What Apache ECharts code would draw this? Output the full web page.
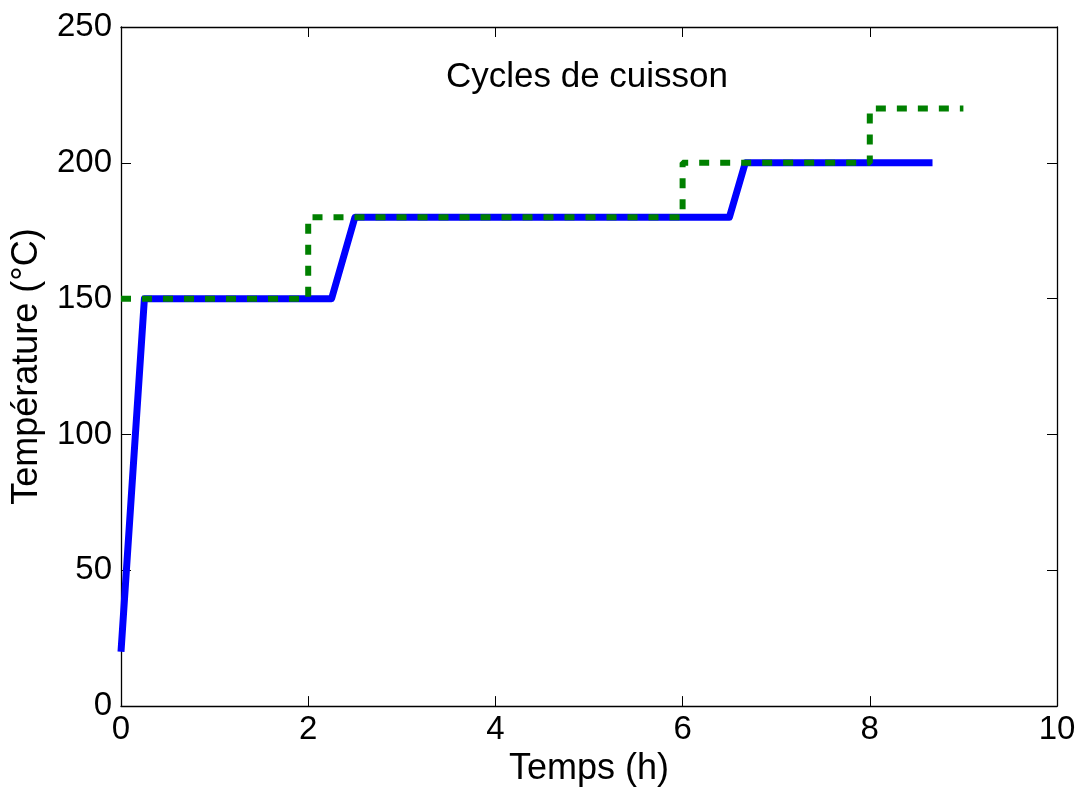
<!DOCTYPE html>
<html><head><meta charset="utf-8">
<script src="https://cdn.jsdelivr.net/npm/echarts@6/dist/echarts.min.js"></script>
<style>html,body{margin:0;padding:0;background:#fff}#c{width:1084px;height:792px}</style>
</head><body><div id="c"></div>
<script>
const xTicks = [0, 2, 4, 6, 8, 10];
const yTicks = [0, 50, 100, 150, 200, 250];
const blueX = [0, 0.25, 2.25, 2.5, 6.5, 6.67, 8.67];
const blueY = [20, 150, 150, 180, 180, 200, 200];
const greenX = [0, 2, 2, 6, 6, 8, 8, 9];
const greenY = [150, 150, 180, 180, 200, 200, 220, 220];
const titleText = 'Cycles de cuisson';
const xName = 'Temps (h)';
const yName = 'Température (°C)';

const font = 'Liberation Sans, Arial, Helvetica, sans-serif';
const chart = echarts.init(document.getElementById('c'), null, {renderer: 'canvas'});
const axisCommon = {
  axisLine: {show: true, onZero: false, lineStyle: {color: '#000', width: 1.3}},
  axisTick: {show: true, inside: true, length: 10, lineStyle: {color: '#000', width: 1}},
  splitLine: {show: false}
};
chart.setOption({
  animation: false,
  title: {text: titleText, left: 582, top: 55, textAlign: 'center',
    textStyle: {fontFamily: font, fontWeight: 'normal', fontSize: 35, color: '#000'}},
  grid: {left: 121, right: 27, top: 27, bottom: 85},
  xAxis: [
    Object.assign({type: 'value', min: xTicks[0], max: xTicks[xTicks.length-1], interval: 2, position: 'bottom',
      name: xName, nameLocation: 'middle', nameGap: 43,
      nameTextStyle: {fontFamily: font, fontSize: 36, color: '#000'},
      axisLabel: {fontFamily: font, fontSize: 33, color: '#000', margin: 7}}, axisCommon),
    Object.assign({type: 'value', min: xTicks[0], max: xTicks[xTicks.length-1], interval: 2, position: 'top',
      axisLabel: {show: false}}, axisCommon)
  ],
  yAxis: [
    Object.assign({type: 'value', min: yTicks[0], max: yTicks[yTicks.length-1], interval: 50, position: 'left',
      name: yName, nameLocation: 'middle', nameGap: 76, nameRotate: 90,
      nameTextStyle: {fontFamily: font, fontSize: 36, color: '#000'},
      axisLabel: {fontFamily: font, fontSize: 33, color: '#000', margin: 9}}, axisCommon),
    Object.assign({type: 'value', min: yTicks[0], max: yTicks[yTicks.length-1], interval: 50, position: 'right',
      axisLabel: {show: false}}, axisCommon)
  ],
  series: [
    {type: 'line', data: blueX.map((x, i) => [x, blueY[i]]), symbol: 'none',
      lineStyle: {color: '#0000ff', width: 7, join: 'round'}, z: 2},
    {type: 'line', data: greenX.map((x, i) => [x, greenY[i]]), symbol: 'none',
      lineStyle: {color: '#008000', width: 6, type: [10, 11], cap: 'butt'}, z: 3}
  ]
});
</script></body></html>
